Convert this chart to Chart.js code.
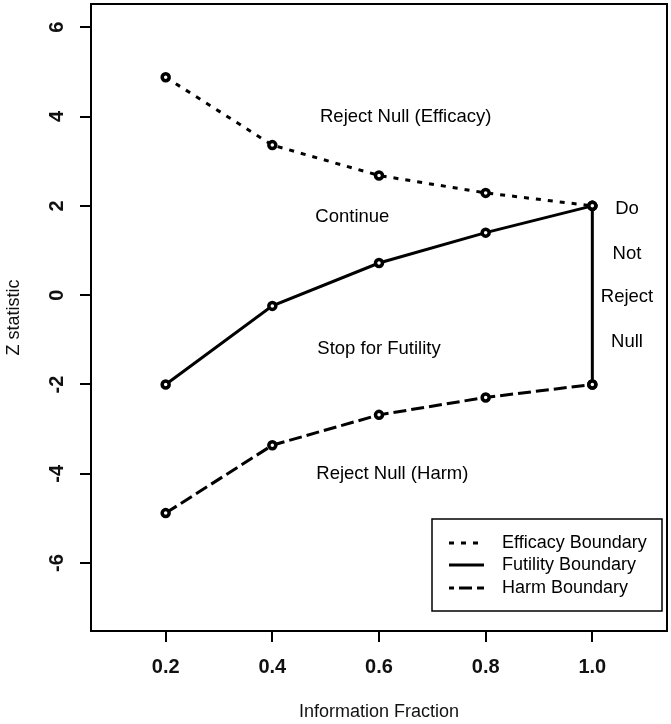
<!DOCTYPE html>
<html>
<head>
<meta charset="utf-8">
<script src="https://cdn.jsdelivr.net/npm/chart.js@4.4.1/dist/chart.umd.min.js"></script>
<style>
  html, body { margin: 0; padding: 0; background: #fff; }
  #chart { display: block; }
</style>
</head>
<body>
<canvas id="chart" width="671" height="724"></canvas>
<script>
const infoFraction = [0.2, 0.4, 0.6, 0.8, 1.0]
const efficacyZ = [4.88, 3.36, 2.68, 2.29, 2.0]
const futilityZ = [-2.0, -0.24, 0.72, 1.40, 2.0]
const harmZ = [-4.88, -3.36, -2.68, -2.29, -2.0]

const xTicks = [0.2, 0.4, 0.6, 0.8, 1.0]
const yTicks = [-6, -4, -2, 0, 2, 4, 6]

const legendLabels = ['Efficacy Boundary', 'Futility Boundary', 'Harm Boundary']

// region labels, placed in data units
const regionLabels = [
  { text: 'Reject Null (Efficacy)', x: 0.65, y: 4.0 },
  { text: 'Continue', x: 0.55, y: 1.75 },
  { text: 'Stop for Futility', x: 0.6, y: -1.2 },
  { text: 'Reject Null (Harm)', x: 0.625, y: -4.0 },
  { text: 'Do', x: 1.065, y: 1.93 },
  { text: 'Not', x: 1.065, y: 0.93 },
  { text: 'Reject', x: 1.065, y: -0.03 },
  { text: 'Null', x: 1.065, y: -1.05 }
]

const FONT = '"Liberation Sans", Arial, sans-serif'

const toPoints = ys => infoFraction.map((x, i) => ({ x, y: ys[i] }))
const last = infoFraction.length - 1

const markerStyle = {
  pointRadius: 3.5,
  pointBorderWidth: 3.5,
  pointBackgroundColor: '#ffffff',
  pointBorderColor: '#000000',
  pointStyle: 'circle'
}

const boxAndText = {
  id: 'boxAndText',
  afterDatasetsDraw(chart) {
    const { ctx, chartArea, scales } = chart
    const x = scales.x
    const y = scales.y
    ctx.save()

    // plot frame
    ctx.strokeStyle = '#000'
    ctx.lineWidth = 2
    ctx.setLineDash([])
    ctx.strokeRect(chartArea.left, chartArea.top, chartArea.right - chartArea.left, chartArea.bottom - chartArea.top)

    // region annotations
    ctx.fillStyle = '#000'
    ctx.font = '18.5px ' + FONT
    ctx.textAlign = 'center'
    ctx.textBaseline = 'middle'
    regionLabels.forEach(l => {
      ctx.fillText(l.text, x.getPixelForValue(l.x), y.getPixelForValue(l.y))
    })

    // legend box, bottom right inside the plot
    const w = 230, h = 92
    const bx = chartArea.right - 5 - w
    const by = chartArea.bottom - 20 - h
    ctx.lineWidth = 1.5
    ctx.strokeStyle = '#000'
    ctx.strokeRect(bx, by, w, h)
    ctx.font = '18px ' + FONT
    const rows = [24, 46, 69]
    legendLabels.forEach((label, i) => {
      const ds = chart.data.datasets[i]
      const ly = by + rows[i]
      ctx.beginPath()
      ctx.lineWidth = ds.borderWidth
      ctx.setLineDash(ds.borderDash || [])
      ctx.lineDashOffset = i === 2 ? 8 : 0
      ctx.moveTo(bx + 17, ly)
      ctx.lineTo(bx + 52, ly)
      ctx.stroke()
      ctx.setLineDash([])
      ctx.textAlign = 'left'
      ctx.fillText(label, bx + 70, ly)
    })
    ctx.restore()
  }
}

new Chart(document.getElementById('chart'), {
  type: 'line',
  data: {
    datasets: [
      {
        label: legendLabels[0],
        data: toPoints(efficacyZ),
        borderColor: '#000',
        borderWidth: 3,
        borderDash: [5, 7],
        ...markerStyle
      },
      {
        label: legendLabels[1],
        data: toPoints(futilityZ),
        borderColor: '#000',
        borderWidth: 3,
        ...markerStyle
      },
      {
        label: legendLabels[2],
        data: toPoints(harmZ),
        borderColor: '#000',
        borderWidth: 3,
        borderDash: [13, 5],
        ...markerStyle
      },
      {
        label: 'final',
        data: [
          { x: infoFraction[last], y: futilityZ[last] },
          { x: infoFraction[last], y: harmZ[last] }
        ],
        borderColor: '#000',
        borderWidth: 3,
        ...markerStyle
      }
    ]
  },
  options: {
    responsive: false,
    animation: false,
    layout: { autoPadding: false, padding: { top: 4, right: 4, left: 0, bottom: 0 } },
    plugins: {
      legend: { display: false },
      tooltip: { enabled: false }
    },
    scales: {
      x: {
        type: 'linear',
        min: 0.06,
        max: 1.14,
        afterBuildTicks: s => { s.ticks = xTicks.map(v => ({ value: v })) },
        afterFit: s => { s.height = 93; s.paddingLeft = 0; s.paddingRight = 0 },
        grid: { drawOnChartArea: false, drawTicks: true, tickLength: 11, color: '#000', lineWidth: 2 },
        border: { display: true, color: '#000', width: 2 },
        ticks: {
          autoSkip: false,
          maxRotation: 0,
          padding: 13,
          color: '#111',
          font: { family: FONT, size: 20, weight: 'bold' },
          callback: v => Number(v).toFixed(1)
        },
        title: {
          display: true,
          text: 'Information Fraction',
          color: '#111',
          font: { family: FONT, size: 18 },
          padding: { top: 0, bottom: 1 }
        }
      },
      y: {
        min: -7.52,
        max: 6.52,
        afterBuildTicks: s => { s.ticks = yTicks.map(v => ({ value: v })) },
        afterFit: s => { s.width = 91; s.paddingTop = 0; s.paddingBottom = 0 },
        grid: { drawOnChartArea: false, drawTicks: true, tickLength: 11, color: '#000', lineWidth: 2 },
        border: { display: true, color: '#000', width: 2 },
        ticks: {
          autoSkip: false,
          minRotation: 90,
          maxRotation: 90,
          crossAlign: 'center',
          padding: 14,
          color: '#111',
          font: { family: FONT, size: 20, weight: 'bold' },
          callback: v => String(v)
        },
        title: {
          display: true,
          text: 'Z statistic',
          color: '#111',
          font: { family: FONT, size: 18 },
          padding: { top: 3, bottom: 0 }
        }
      }
    }
  },
  plugins: [boxAndText]
})
</script>
</body>
</html>
